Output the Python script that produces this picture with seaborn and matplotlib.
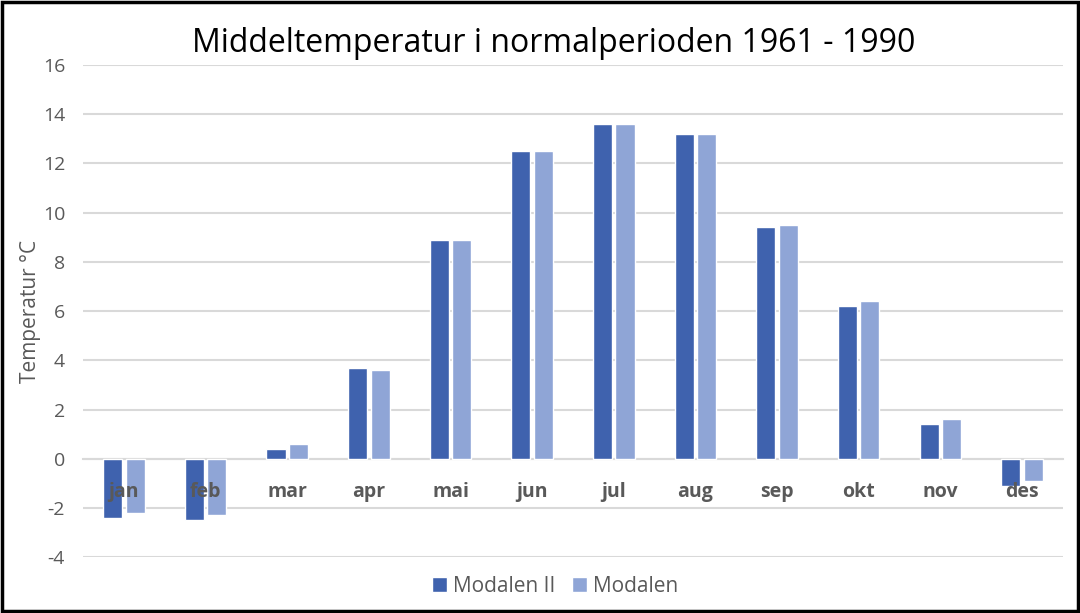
import pandas as pd
import seaborn as sns
import matplotlib.pyplot as plt
from matplotlib.patches import Rectangle

months = ['jan', 'feb', 'mar', 'apr', 'mai', 'jun', 'jul', 'aug', 'sep', 'okt', 'nov', 'des']
modalen_ii = [-2.4, -2.5, 0.4, 3.7, 8.9, 12.5, 13.6, 13.2, 9.4, 6.2, 1.4, -1.1]
modalen = [-2.2, -2.3, 0.6, 3.6, 8.9, 12.5, 13.6, 13.2, 9.5, 6.4, 1.6, -0.9]
series_names = ['Modalen II', 'Modalen']

df = pd.DataFrame({
    'month': months * 2,
    'temp': modalen_ii + modalen,
    'series': [series_names[0]] * 12 + [series_names[1]] * 12,
})

sns.set_theme(style="white")
plt.rcParams['font.family'] = ['Open Sans', 'DejaVu Sans']
plt.rcParams['axes.unicode_minus'] = False

fig = plt.figure(figsize=(10.8, 6.13), dpi=100)
ax = fig.add_axes([0.077, 0.091, 0.907, 0.803])

sns.barplot(data=df, x='month', y='temp', hue='series', order=months,
            palette=['#3F62AE', '#8FA5D6'], width=0.55, gap=0.15,
            saturation=1, ax=ax)

ax.set_ylim(-4, 16)
ax.set_yticks(range(-4, 17, 2))
ax.yaxis.grid(True, color='#D9D9D9', linewidth=1.5)
ax.set_axisbelow(True)
# month labels sit on top of the bars, like in Excel
ax.xaxis.set_zorder(3)
ax.set_xlim(-0.5, 11.5)

for s in ['top', 'right', 'left']:
    ax.spines[s].set_visible(False)
ax.spines['bottom'].set_position(('data', 0))
ax.spines['bottom'].set_color('#D9D9D9')
ax.spines['bottom'].set_linewidth(1.5)
ax.spines['bottom'].set_zorder(0.6)

ax.tick_params(axis='x', length=0, pad=17, labelsize=14, labelcolor='#595959')
for lbl in ax.get_xticklabels():
    lbl.set_fontweight('bold')
ax.tick_params(axis='y', length=0, pad=13, labelsize=14, labelcolor='#595959')

ax.set_xlabel('')
ax.set_ylabel('Temperatur °C', fontsize=15, color='#595959', labelpad=1)
ax.set_title('Middeltemperatur i normalperioden 1961 - 1990', fontsize=23,
             color='#000000', pad=9, x=0.48)

ax.legend(loc='upper center', bbox_to_anchor=(0.482, -0.0), ncol=2, frameon=False,
          fontsize=15, labelcolor='#595959', handlelength=0.7, handleheight=0.7,
          handletextpad=0.3, columnspacing=0.8)

fig.patches.append(Rectangle((0.002, 0.003), 0.996, 0.994, transform=fig.transFigure,
                             fill=False, edgecolor='black', linewidth=2.5))

plt.savefig('out.png', dpi=100)
